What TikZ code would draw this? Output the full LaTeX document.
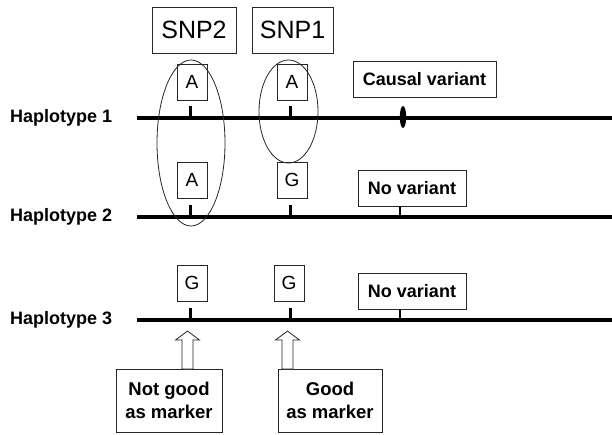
\documentclass[tikz,border=0pt]{standalone}
\usepackage{fontspec}
\setmainfont{Liberation Sans}
\usetikzlibrary{shapes.geometric}
\begin{document}
\begin{tikzpicture}[x=1pt,y=-1pt,
  hlabel/.style={font=\bfseries\fontsize{18}{20}\selectfont, anchor=west, inner sep=0pt},
  snpbox/.style={draw=black!85, line width=0.8pt, inner sep=0pt, minimum width=#1, minimum height=46pt, font=\fontsize{25}{28}\selectfont},
  allele/.style={draw=black!85, line width=0.8pt, inner sep=0pt, minimum width=30pt, minimum height=36pt, font=\fontsize{19}{20}\selectfont},
  varbox/.style={draw=black!85, line width=0.8pt, inner sep=0pt, minimum width=#1, minimum height=36pt, font=\bfseries\fontsize{18}{20}\selectfont},
  notebox/.style={draw=black!85, line width=0.8pt, inner sep=0pt, minimum width=#1, minimum height=63pt, align=center, font=\bfseries\fontsize{18.5}{23}\selectfont},
  hapline/.style={line width=4pt},
  ticksnp/.style={line width=3pt},
  tickthin/.style={line width=1.2pt},
  ring/.style={draw=black!85, line width=0.8pt, ellipse, inner sep=0pt},
  hollow/.style={draw=black!85, line width=0.8pt, fill=white, line join=miter}
]
\useasboundingbox (0,0) rectangle (612,434);

% SNP header boxes
\node[snpbox=84pt] (snp2) at (194,30) {SNP2};
\node[snpbox=81pt] (snp1) at (292.5,30) {SNP1};

% haplotype labels and lines
\node[hlabel] (h1) at (10,118) {Haplotype 1};
\node[hlabel] (h2) at (10,217) {Haplotype 2};
\node[hlabel] (h3) at (10,320) {Haplotype 3};
\coordinate (h1s) at (137,118); \coordinate (h1e) at (612,118);
\coordinate (h2s) at (137,217); \coordinate (h2e) at (612,217);
\coordinate (h3s) at (137,320); \coordinate (h3e) at (612,320);
\draw[hapline] (h1s) -- (h1e);
\draw[hapline] (h2s) -- (h2e);
\draw[hapline] (h3s) -- (h3e);

% allele boxes
\node[allele] (a12) at (192,82) {A};
\node[allele] (a11) at (292,82) {A};
\node[allele] (a22) at (192,180) {A};
\node[allele] (a21) at (292,180) {G};
\node[allele] (a32) at (192,283) {G};
\node[allele] (a31) at (289,283) {G};

% variant boxes
\node[varbox=143pt] (cv) at (424.5,79) {Causal variant};
\node[varbox=108pt] (nv2) at (412,188) {No variant};
\node[varbox=108pt] (nv3) at (412,291) {No variant};

% ticks
\coordinate (k12) at (190,118); \coordinate (k11) at (290,118);
\coordinate (k22) at (190,217); \coordinate (k21) at (290,217);
\coordinate (k32) at (190,320); \coordinate (k31) at (290,320);
\draw[ticksnp] (k12) -- ++(0,-12);
\draw[ticksnp] (k11) -- ++(0,-12);
\draw[ticksnp] (k22) -- ++(0,-12);
\draw[ticksnp] (k21) -- ++(0,-12);
\draw[ticksnp] (k32) -- ++(0,-12);
\draw[ticksnp] (k31) -- ++(0,-12);
\coordinate (kv2) at (400,217); \coordinate (kv3) at (400,320);
\draw[tickthin] (kv2) -- (kv2 |- nv2.south);
\draw[tickthin] (kv3) -- (kv3 |- nv3.south);

% causal variant mark
\fill (403,117) ellipse [x radius=3.2, y radius=11];

% linkage ellipses
\node[ring, minimum width=68pt, minimum height=166pt] (e2) at (191,143) {};
\node[ring, minimum width=59pt, minimum height=103pt] (e1) at (288.5,111.5) {};

% marker notes
\node[notebox=106pt] (ng) at (169,400.5) {Not good\\as marker};
\node[notebox=104pt] (gd) at (330,400.5) {Good\\as marker};

% hollow arrows (from note boxes up to the SNP positions)
\coordinate (t2) at (187.5,331);
\coordinate (t1) at (287.5,331);
\draw[hollow] (t2) -- ++(12,9) -- ++(-6.5,0) -- ++(0,29) -- ++(-11,0) -- ++(0,-29) -- ++(-6.5,0) -- cycle;
\draw[hollow] (t1) -- ++(12,9) -- ++(-6.5,0) -- ++(0,29) -- ++(-11,0) -- ++(0,-29) -- ++(-6.5,0) -- cycle;
\end{tikzpicture}
\end{document}
